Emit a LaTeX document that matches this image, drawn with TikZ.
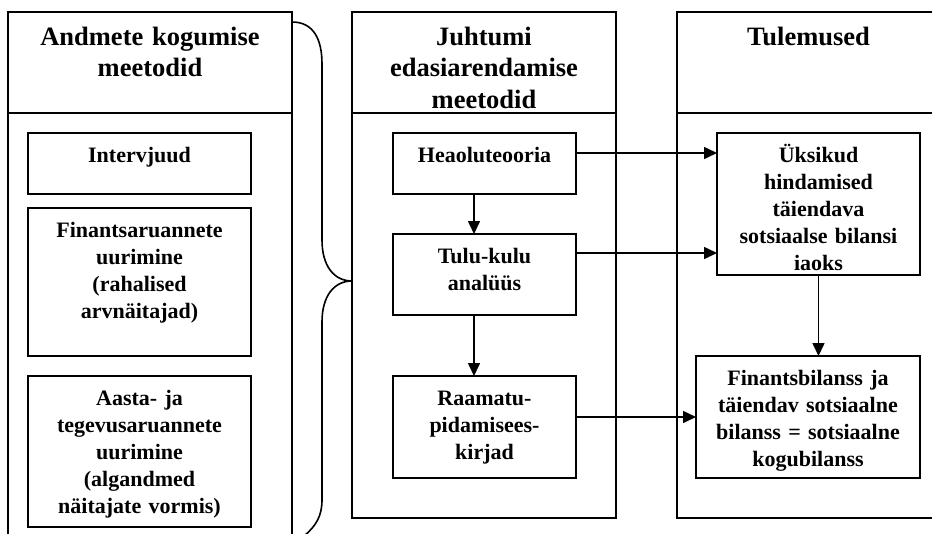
\documentclass[tikz,border=0pt]{standalone}
\usepackage{fontspec}
\setmainfont{Liberation Serif}
\usetikzlibrary{arrows.meta}
\begin{document}
\begin{tikzpicture}[x=1pt, y=-1pt,
  frame/.style={draw, line width=1.6pt, outer sep=0pt, inner sep=0pt, anchor=north west},
  headbox/.style={frame, align=center, text height=33pt,
    font=\bfseries\fontsize{26.5}{31.5}\selectfont},
  stepbox/.style={frame, align=center, inner xsep=2pt, text height=29pt,
    font=\bfseries\fontsize{22}{27}\selectfont},
  link/.style={line width=1.6pt, -{Triangle[length=13pt,width=12pt]}},
  brace/.style={line width=1.6pt, line cap=round}]
\useasboundingbox (0,0) rectangle (932,533);
\clip (0,0) rectangle (932,533);

% column frames: header part and body part
\node[headbox, minimum width=284pt, text width=280pt, text depth=68pt] (hA) at (8,12)
  {Andmete kogumise\\meetodid};
\node[frame, minimum width=284pt, minimum height=460pt] (bA) at (8,113) {};
\node[headbox, minimum width=264pt, text width=260pt, text depth=68pt] (hB) at (352,12)
  {Juhtumi\\edasiarendamise\\meetodid};
\node[frame, minimum width=264pt, minimum height=405pt] (bB) at (352,113) {};
\node[headbox, minimum width=263pt, text width=259pt, text depth=68pt] (hC) at (677,12)
  {Tulemused};
\node[frame, minimum width=263pt, minimum height=405pt] (bC) at (677,113) {};

% data collection methods
\node[stepbox, text width=219pt, text depth=32pt] (intv) at (28,133) {Intervjuud};
\node[stepbox, text width=219pt, text depth=119pt] (fin) at (28,208)
  {Finantsaruannete\\uurimine\\(rahalised\\arvnäitajad)};
\node[stepbox, text width=219pt, text depth=122pt] (aasta) at (28,376)
  {Aasta- ja\\tegevusaruannete\\uurimine\\(algandmed\\näitajate vormis)};

% case development methods
\node[stepbox, text width=179pt, text depth=32pt] (heao) at (393,133) {Heaoluteooria};
\node[stepbox, text width=179pt, text depth=52pt] (tulu) at (393,234) {Tulu-kulu\\analüüs};
\node[stepbox, text width=179pt, text depth=73pt] (raam) at (393,376)
  {Raamatu-\\pidamisees-\\kirjad};

% results
\node[stepbox, text width=199pt, text depth=113pt] (uks) at (717,133)
  {Üksikud\\hindamised\\täiendava\\sotsiaalse bilansi\\iaoks};
\node[stepbox, text width=220pt, text depth=93pt] (finb) at (696,356)
  {Finantsbilanss ja\\täiendav sotsiaalne\\bilanss = sotsiaalne\\kogubilanss};

% connectors
\draw[link] ([xshift=-10.5pt]heao.south) -- ([xshift=-10.5pt]tulu.north);
\draw[link] ([xshift=-10.5pt]tulu.south) -- ([xshift=-10.5pt]raam.north);
\draw[link] ([yshift=-20pt]heao.north east) -- ([yshift=-20pt]heao.north east -| uks.west);
\draw[link] ([yshift=-19pt]tulu.north east) -- ([yshift=-19pt]tulu.north east -| uks.west);
\draw[link] ([yshift=-41pt]raam.north east) -- ([yshift=-41pt]raam.north east -| finb.west);
\draw[link] (uks.south) -- (uks.south |- finb.north);

% curly brace joining the first column to the second
\coordinate (tip) at (bB.west |- 0,281);
\draw[brace] (292,22) .. controls (314,22) and (322,40) .. (322,64)
  -- (322,240) .. controls (322,266) and (334,281) .. (tip)
  .. controls (334,281) and (322,296) .. (322,322)
  -- (322,500) .. controls (322,516) and (316,526) .. (304,536);
\end{tikzpicture}
\end{document}
